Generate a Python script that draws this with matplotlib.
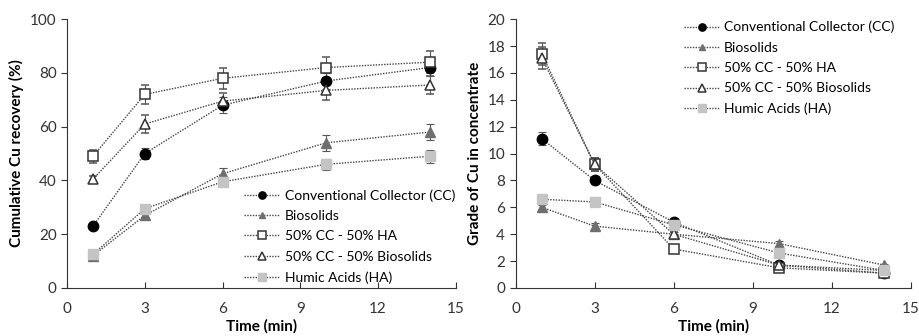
import numpy as np
import matplotlib
matplotlib.use("Agg")
import matplotlib.pyplot as plt

plt.rcParams['font.family'] = ['Lato', 'DejaVu Sans']

time = [1, 3, 6, 10, 14]
labels = ['Conventional Collector (CC)', 'Biosolids', '50% CC - 50% HA',
          '50% CC - 50% Biosolids', 'Humic Acids (HA)']

# recovery (%)
rec_cc = [23, 50, 68, 77, 82]
rec_bio = [12, 27, 42.5, 54, 58]
rec_ccha = [49, 72, 78, 82, 84]
rec_ccbio = [40.5, 61, 69.5, 73.5, 75.5]
rec_ha = [12.5, 29.5, 39.5, 46, 49]
rec_cc_err = [1, 2, 3, 3, 3]
rec_bio_err = [1, 1.5, 2, 3, 3]
rec_ccha_err = [2.5, 3.5, 4, 4, 4]
rec_ccbio_err = [1, 3.5, 3, 3.5, 3.5]
rec_ha_err = [1.5, 1.5, 1.5, 2, 2.5]

# grade
gr_cc = [11.1, 8.0, 4.9, 1.7, 1.1]
gr_bio = [6.0, 4.6, 4.0, 3.3, 1.7]
gr_ccha = [17.4, 9.2, 2.9, 1.5, 1.1]
gr_ccbio = [17.1, 9.2, 4.0, 1.7, 1.3]
gr_ha = [6.6, 6.4, 4.7, 2.6, 1.3]
gr_cc_err = [0.5, 0.3, 0.2, 0.2, 0.1]
gr_bio_err = [0.2, 0.2, 0.2, 0.2, 0.1]
gr_ccha_err = [0.8, 0.5, 0.2, 0.2, 0.1]
gr_ccbio_err = [0.8, 0.5, 0.2, 0.2, 0.1]
gr_ha_err = [0.2, 0.2, 0.2, 0.2, 0.1]

styles = [
    dict(marker='o', mfc='black', mec='black', ms=7.5),
    dict(marker='^', mfc='#6e6e6e', mec='#6e6e6e', ms=7),
    dict(marker='s', mfc='white', mec='#333333', ms=7.5, mew=1.1),
    dict(marker='^', mfc='white', mec='#333333', ms=7.5, mew=1.1),
    dict(marker='s', mfc='#c4c4c4', mec='#c4c4c4', ms=7.5),
]

fig = plt.figure(figsize=(9.19, 3.36), dpi=100)
ax1 = fig.add_axes([0.073, 0.143, 0.423, 0.800])
ax2 = fig.add_axes([0.561, 0.143, 0.430, 0.800])

def draw(ax, series, errs, ymax, ystep, ylabel, legloc, anchor):
    handles = []
    for s, e, lab, st in zip(series, errs, labels, styles):
        c = ax.errorbar(time, s, yerr=e, ls=(0, (1, 1)), lw=1.0, color='#444444',
                        ecolor='#555555', elinewidth=0.8, capsize=3, capthick=0.8,
                        label=lab, **st)
        handles.append(c[0])
    ax.set_xlim(0, 15)
    ax.set_ylim(0, ymax)
    ax.set_xticks(np.arange(0, 16, 3))
    ax.set_yticks(np.arange(0, ymax + 0.1, ystep))
    ax.spines['top'].set_visible(False)
    ax.spines['right'].set_visible(False)
    for sp in ax.spines.values():
        sp.set_color('#333333')
    ax.tick_params(axis='x', direction='in', length=4, labelsize=11,
                   colors='#333333', pad=10)
    ax.tick_params(axis='y', direction='out', length=4, labelsize=11,
                   colors='#333333')
    ax.set_xlabel('Time (min)', fontsize=11, fontweight='bold', labelpad=2)
    ax.set_ylabel(ylabel, fontsize=11, fontweight='bold')
    ax.legend(handles, labels, loc=legloc, bbox_to_anchor=anchor, frameon=False,
              fontsize=10, handlelength=2.6, labelspacing=0.6, handletextpad=0.3,
              markerscale=0.7)

draw(ax1, [rec_cc, rec_bio, rec_ccha, rec_ccbio, rec_ha],
     [rec_cc_err, rec_bio_err, rec_ccha_err, rec_ccbio_err, rec_ha_err],
     100, 20, 'Cumulative Cu recovery (%)', 'lower right', (1.03, -0.03))
draw(ax2, [gr_cc, gr_bio, gr_ccha, gr_ccbio, gr_ha],
     [gr_cc_err, gr_bio_err, gr_ccha_err, gr_ccbio_err, gr_ha_err],
     20, 2, 'Grade of Cu in concentrate', 'upper right', (0.99, 1.04))

fig.savefig('out.png', dpi=100)
